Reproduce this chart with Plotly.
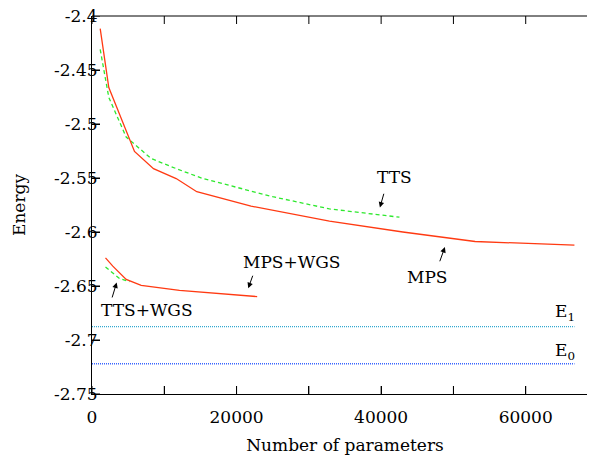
import plotly.graph_objects as go

# MPS (red solid)
mps_x = [1134, 2324, 5878, 8506, 11646, 14495, 22000, 32850, 43000, 53000, 66740]
mps_y = [-2.4117, -2.4662, -2.5254, -2.5414, -2.5505, -2.5627, -2.5760, -2.5900, -2.6000, -2.6088, -2.6122]
# TTS (green dashed)
tts_x = [1134, 2324, 4730, 8188, 11646, 15325, 25007, 32850, 42530]
tts_y = [-2.4310, -2.4754, -2.5121, -2.5320, -2.5413, -2.5505, -2.5673, -2.5786, -2.5863]
# MPS+WGS (red solid)
mpsw_x = [1867, 2877, 4730, 6805, 12102, 17635, 22850]
mpsw_y = [-2.6240, -2.6316, -2.6439, -2.6494, -2.6540, -2.6567, -2.6598]
# TTS+WGS (green dashed)
ttsw_x = [1867, 3803, 5187]
ttsw_y = [-2.6325, -2.6430, -2.6460]
# reference energies
e_x = [0, 66740]
e1 = -2.6877
e0 = -2.7220

x_ticks = [0, 10000, 20000, 30000, 40000, 50000, 60000, 70000]
x_text = ["0", "", "20000", "", "40000", "", "60000", ""]
y_ticks = [-2.4, -2.45, -2.5, -2.55, -2.6, -2.65, -2.7, -2.75]
y_text = ["-2.4", "-2.45", "-2.5", "-2.55", "-2.6", "-2.65", "-2.7", "-2.75"]
x_range = [0, 70000]
y_range = [-2.75, -2.4]

RED = "#ff3a12"
GREEN = "#2ee82e"
FONT = "DejaVu Serif"
FS = 17
W, H = 595, 460
M = dict(l=84, r=5, t=8, b=74)
TICK = 8
plot_w = W - M["l"] - M["r"]
plot_h = H - M["t"] - M["b"]

fig = go.Figure()
fig.add_trace(go.Scatter(x=e_x, y=[e1, e1], mode="lines",
                         line=dict(color="#33a8d0", width=1.3, dash="1px,1px")))
fig.add_trace(go.Scatter(x=e_x, y=[e0, e0], mode="lines",
                         line=dict(color="#3a66ff", width=1.3, dash="1px,1px")))
fig.add_trace(go.Scatter(x=tts_x, y=tts_y, mode="lines",
                         line=dict(color=GREEN, width=1.3, dash="4px,3px")))
fig.add_trace(go.Scatter(x=mps_x, y=mps_y, mode="lines",
                         line=dict(color=RED, width=1.3)))
fig.add_trace(go.Scatter(x=ttsw_x, y=ttsw_y, mode="lines",
                         line=dict(color=GREEN, width=1.3, dash="4px,3px")))
fig.add_trace(go.Scatter(x=mpsw_x, y=mpsw_y, mode="lines",
                         line=dict(color=RED, width=1.3)))

# frame: top and right edges, plus inward ticks on all four sides
fig.add_shape(type="line", xref="paper", yref="paper", x0=0, x1=1, y0=1, y1=1,
              line=dict(color="black", width=1), layer="above")
fig.add_shape(type="line", xref="paper", yref="paper", x0=1, x1=1, y0=0, y1=1,
              line=dict(color="black", width=1), layer="above")
for xt in x_ticks:
    fig.add_shape(type="line", xref="x", yref="paper", x0=xt, x1=xt,
                  y0=1, y1=1 - TICK / plot_h, line=dict(color="black", width=1), layer="above")
    fig.add_shape(type="line", xref="x", yref="paper", x0=xt, x1=xt,
                  y0=0, y1=TICK / plot_h, line=dict(color="black", width=1), layer="above")
for yt in y_ticks:
    fig.add_shape(type="line", xref="paper", yref="y", x0=1, x1=1 - TICK / plot_w,
                  y0=yt, y1=yt, line=dict(color="black", width=1), layer="above")
    fig.add_shape(type="line", xref="paper", yref="y", x0=0, x1=TICK / plot_w,
                  y0=yt, y1=yt, line=dict(color="black", width=1), layer="above")

# arrows
arrows = [
    # head x, head y, tail x, tail y
    (39830, -2.5773, 40430, -2.5632),
    (48820, -2.6140, 48040, -2.6285),
    (21620, -2.6520, 22310, -2.6391),
    (3416, -2.6468, 2725, -2.6620),
]
for hx, hy, tx, ty in arrows:
    fig.add_annotation(x=hx, y=hy, ax=tx, ay=ty, xref="x", yref="y",
                       axref="x", ayref="y", text="", showarrow=True,
                       arrowhead=2, arrowsize=1.1, arrowwidth=1, arrowcolor="black")

labels = [
    ("TTS", 41910, -2.5488),
    ("MPS", 46470, -2.6416),
    ("MPS+WGS", 27620, -2.6275),
    ("TTS+WGS", 7566, -2.6722),
    ("E<sub>1</sub>", 65420, -2.6744),
    ("E<sub>0</sub>", 65420, -2.7111),
]
for t, x, y in labels:
    fig.add_annotation(x=x, y=y, xref="x", yref="y", text=t, showarrow=False,
                       font=dict(family=FONT, size=FS, color="black"))

axis_common = dict(showgrid=False, zeroline=False, ticks="inside", ticklen=TICK,
                   tickwidth=1, tickcolor="black", linecolor="black", linewidth=1,
                   automargin=False, showline=True, ticklabeloverflow="allow",
                   tickfont=dict(family=FONT, size=FS, color="black"))

fig.update_layout(
    width=W, height=H,
    margin=M,
    paper_bgcolor="white", plot_bgcolor="white",
    showlegend=False,
    xaxis=dict(range=x_range, tickvals=x_ticks, ticktext=x_text,
               ticklabelstandoff=8,
               title=dict(text="Number of parameters", font=dict(family=FONT, size=FS, color="black"),
                          standoff=12),
               **axis_common),
    yaxis=dict(range=y_range, tickvals=y_ticks, ticktext=y_text,
               ticklabelstandoff=-10,
               title=dict(text="Energy", font=dict(family=FONT, size=FS, color="black"),
                          standoff=24),
               **axis_common),
)

fig.write_html("out.html")
